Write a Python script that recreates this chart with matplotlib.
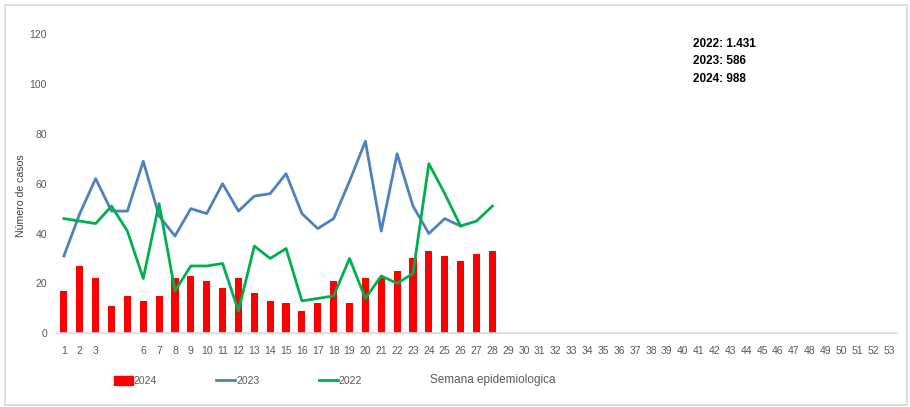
import matplotlib

matplotlib.use("Agg")
import matplotlib.pyplot as plt
from matplotlib.lines import Line2D
from matplotlib.patches import Rectangle

plt.rcParams["font.family"] = ["Liberation Sans", "DejaVu Sans"]

# weekly cases
weeks_2024 = list(range(1, 29))
cases_2024 = [17, 27, 22, 11, 15, 13, 15, 22, 23, 21, 18, 22, 16, 13, 12, 9, 12,
              21, 12, 22, 22, 25, 30, 33, 31, 29, 32, 33]
weeks_2023 = list(range(1, 27))
cases_2023 = [31, 48, 62, 49, 49, 69, 47, 39, 50, 48, 60, 49, 55, 56, 64, 48, 42,
              46, 61, 77, 41, 72, 51, 40, 46, 43]
weeks_2022 = list(range(1, 29))
cases_2022 = [46, 45, 44, 51, 41, 22, 52, 17, 27, 27, 28, 9, 35, 30, 34, 13, 14,
              15, 30, 14, 23, 20, 24, 68, 56, 43, 45, 51]
all_weeks = list(range(1, 54))
week_labels = ["" if w in (4, 5) else str(w) for w in all_weeks]
totals = ["2022: 1.431", "2023: 586", "2024: 988"]

RED, BLUE, GREEN, GREY = "#FF0000", "#4F81BD", "#00B050", "#595959"

fig = plt.figure(figsize=(9.1, 4.07), dpi=100)
ax = fig.add_axes([0.0615, 0.181, 0.9242, 0.7355])

ax.bar(weeks_2024, cases_2024, width=0.45, color=RED, zorder=2)
ax.plot(weeks_2023, cases_2023, color=BLUE, lw=2.0, zorder=3)
ax.plot(weeks_2022, cases_2022, color=GREEN, lw=2.0, zorder=4)

ax.set_xlim(0.5, 53.5)
ax.set_ylim(0, 120)
ax.set_yticks(range(0, 121, 20))
ax.set_xticks(all_weeks)
ax.set_xticklabels(week_labels)
ax.tick_params(axis="both", length=0, labelsize=7.5, colors=GREY)
ax.tick_params(axis="x", pad=9)
ax.tick_params(axis="y", pad=6.5)
for s in ("top", "right", "left"):
    ax.spines[s].set_visible(False)
ax.spines["bottom"].set_color("#D9D9D9")
ax.spines["bottom"].set_linewidth(1.2)

fig.text(0.023, 0.518, "Número de casos", rotation=90, ha="center", va="center",
         fontsize=7.6, color="#404040")

# totals box
for i, t in enumerate(totals):
    fig.text(0.761, 0.893 - i * 0.043, t, fontsize=8.5, fontweight="bold",
             color="black", ha="left", va="center")

# legend row at the bottom
handles = [Rectangle((0, 0), 1, 1, color=RED),
           Line2D([], [], color=BLUE, lw=2),
           Line2D([], [], color=GREEN, lw=2)]
leg = fig.legend(handles, ["2024", "2023", "2022"], loc="center left",
                 bbox_to_anchor=(0.115, 0.064), ncol=3, frameon=False,
                 fontsize=7.5, handlelength=1.8, handletextpad=0.1,
                 columnspacing=5.7, handleheight=0.9)
for txt in leg.get_texts():
    txt.set_color(GREY)
fig.text(0.472, 0.066, "Semana epidemiologica", fontsize=8.5, color=GREY,
         ha="left", va="center")

# light frame around the whole chart
fig.patches.append(Rectangle((0.006, 0.005), 0.991, 0.982, transform=fig.transFigure,
                             fill=False, edgecolor="#D9D9D9", lw=1.2))

fig.savefig("out.png", dpi=100)
